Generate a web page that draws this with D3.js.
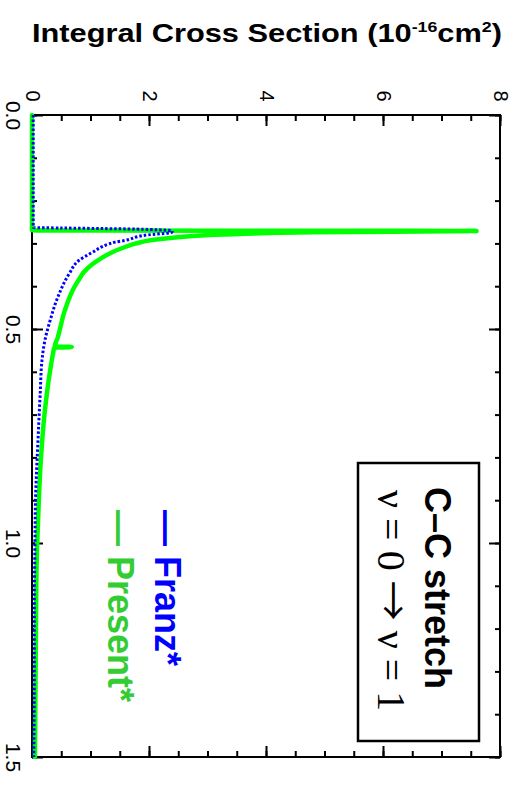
<!DOCTYPE html>
<html>
<head>
<meta charset="utf-8">
<script src="https://cdn.jsdelivr.net/npm/d3@7"></script>
<style>
  body { margin: 0; background: #fff; }
  svg { display: block; font-family: "Liberation Sans", Arial, sans-serif; }
</style>
</head>
<body>
<script>
const width = 520;
const height = 796;
const box = { left: 32, right: 500, top: 115, bottom: 757 };

// energy (eV) runs down the page, cross section (1e-16 cm2) runs across it
const presentEnergy = [0, 0.2695, 0.271, 0.274, 0.281, 0.286, 0.292, 0.300, 0.309, 0.320, 0.335, 0.350,
  0.368, 0.385, 0.403, 0.457, 0.520, 0.541, 0.542, 0.544, 0.557, 0.597, 0.691, 0.808, 0.925, 1.042,
  1.159, 1.276, 1.5];
const presentSigma = [0, 0, 7.6, 4.8, 2.96, 2.45, 2.05, 1.78, 1.58, 1.38, 1.18, 1.02,
  0.88, 0.80, 0.72, 0.56, 0.44, 0.39, 0.68, 0.38, 0.36, 0.31, 0.22, 0.15, 0.11, 0.08,
  0.07, 0.063, 0.05];

const franzEnergy = [0, 0.263, 0.264, 0.267, 0.271, 0.274, 0.281, 0.293, 0.297, 0.302, 0.321, 0.340,
  0.370, 0.426, 0.480, 0.527, 0.574, 0.651, 0.768, 0.885, 1.002, 1.159, 1.26, 1.5];
const franzSigma = [0.02, 0.02, 0.5, 1.9, 2.4, 2.39, 1.93, 1.59, 1.42, 1.30, 1.03, 0.80,
  0.64, 0.44, 0.31, 0.22, 0.17, 0.14, 0.10, 0.063, 0.05, 0.04, 0.04, 0.03];

const sigmaTicks = [0, 2, 4, 6, 8];
const energyTicks = [0, 0.5, 1.0, 1.5];
const sigmaMinor = d3.range(0, 8.01, 0.5);
const energyMinor = d3.range(0, 1.501, 0.1);

const svg = d3.select("body")
  .append("svg")
  .attr("width", width)
  .attr("height", height);

const x = d3.scaleLinear().domain([0, 8]).range([box.left, box.right]);
const y = d3.scaleLinear().domain([0, 1.5]).range([box.top, box.bottom]);

// title
const title = svg.append("text")
  .attr("x", 32)
  .attr("y", 42)
  .attr("font-size", 26)
  .attr("font-weight", "bold")
  .attr("textLength", 470)
  .attr("lengthAdjust", "spacingAndGlyphs");
title.append("tspan").text("Integral Cross Section (10");
title.append("tspan").attr("dy", -10).attr("font-size", 15).text("-16");
title.append("tspan").attr("dy", 10).text("cm");
title.append("tspan").attr("dy", -10).attr("font-size", 15).text("2");
title.append("tspan").attr("dy", 10).text(")");

// tick marks, all pointing into the box
function tickMarks(axis, shift, size, values) {
  svg.append("g")
    .attr("transform", shift)
    .call(axis.tickValues(values).tickSizeInner(size).tickSizeOuter(0).tickFormat(""))
    .call(g => g.select(".domain").remove())
    .selectAll("line")
    .attr("stroke", "#000")
    .attr("stroke-width", 2);
}
tickMarks(d3.axisTop(x), `translate(0,${box.top})`, -6, sigmaMinor);
tickMarks(d3.axisTop(x), `translate(0,${box.top})`, -11, sigmaTicks);
tickMarks(d3.axisBottom(x), `translate(0,${box.bottom})`, -6, sigmaMinor);
tickMarks(d3.axisBottom(x), `translate(0,${box.bottom})`, -11, sigmaTicks);
tickMarks(d3.axisLeft(y), `translate(${box.left},0)`, -5, energyMinor);
tickMarks(d3.axisLeft(y), `translate(${box.left},0)`, -11, energyTicks);
tickMarks(d3.axisRight(y), `translate(${box.right},0)`, -5, energyMinor);
tickMarks(d3.axisRight(y), `translate(${box.right},0)`, -11, energyTicks);

// rotated tick labels
svg.append("g")
  .attr("transform", `translate(0,${box.top})`)
  .call(d3.axisTop(x).tickValues(sigmaTicks).tickSize(0).tickFormat(d3.format("d")))
  .call(g => g.select(".domain").remove())
  .attr("font-family", null)
  .selectAll("text")
  .attr("x", null).attr("y", null).attr("dy", null)
  .attr("transform", "translate(0,-19) rotate(90)")
  .attr("text-anchor", "middle")
  .attr("dominant-baseline", "central")
  .attr("font-size", 20)
  .attr("fill", "#000");

svg.append("g")
  .attr("transform", `translate(${box.left},0)`)
  .call(d3.axisLeft(y).tickValues(energyTicks).tickSize(0).tickFormat(d3.format(".1f")))
  .call(g => g.select(".domain").remove())
  .attr("font-family", null)
  .selectAll("text")
  .attr("x", null).attr("y", null).attr("dy", null)
  .attr("transform", "translate(-26,0) rotate(90)")
  .attr("text-anchor", "middle")
  .attr("font-size", 21)
  .attr("fill", "#000");

// frame
svg.append("rect")
  .attr("x", box.left)
  .attr("y", box.top)
  .attr("width", box.right - box.left)
  .attr("height", box.bottom - box.top)
  .attr("fill", "none")
  .attr("stroke", "#000")
  .attr("stroke-width", 2);

const line = d3.line()
  .x(d => x(d[1]))
  .y(d => y(d[0]))
  .curve(d3.curveMonotoneY);

svg.append("path")
  .datum(d3.zip(presentEnergy, presentSigma))
  .attr("d", line)
  .attr("fill", "none")
  .attr("stroke", "#00ff00")
  .attr("stroke-width", 4.5)
  .attr("stroke-linejoin", "round")
  .attr("stroke-linecap", "round");

svg.append("path")
  .datum(d3.zip(franzEnergy, franzSigma))
  .attr("d", line)
  .attr("fill", "none")
  .attr("stroke", "#0000ff")
  .attr("stroke-width", 3)
  .attr("stroke-dasharray", "2.5,2");

// legend
svg.append("text")
  .attr("transform", "translate(155,510) rotate(90)")
  .attr("font-size", 36)
  .attr("font-weight", "bold")
  .attr("fill", "#0000ff")
  .text("\u2014 Franz*");

svg.append("text")
  .attr("transform", "translate(108,510) rotate(90)")
  .attr("font-size", 36)
  .attr("font-weight", "bold")
  .attr("fill", "#33cc33")
  .text("\u2014 Present*");

// annotation box
svg.append("rect")
  .attr("x", 358)
  .attr("y", 463)
  .attr("width", 121)
  .attr("height", 278)
  .attr("fill", "#fff")
  .attr("stroke", "#000")
  .attr("stroke-width", 2.5);

svg.append("text")
  .attr("transform", "translate(425,487) rotate(90)")
  .attr("font-size", 36)
  .attr("font-weight", "bold")
  .text("C\u2013C stretch");

const nu = svg.append("text")
  .attr("transform", "translate(378,490) rotate(90)")
  .attr("font-family", "'Liberation Serif', 'Times New Roman', serif")
  .attr("font-size", 40);
nu.append("tspan").text("\u03bd = 0 ");
nu.append("tspan").attr("font-family", "'Noto Sans CJK JP', 'DejaVu Sans', sans-serif").attr("font-size", 40).text("\u2192");
nu.append("tspan").text(" \u03bd = 1");
</script>
</body>
</html>
